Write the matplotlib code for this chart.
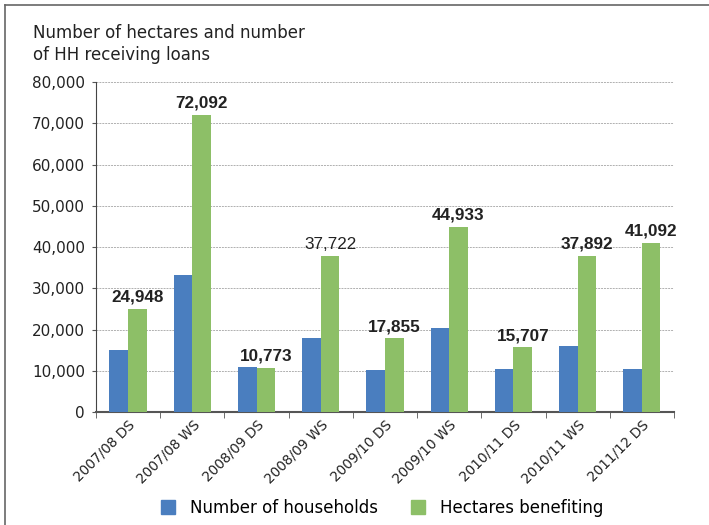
import matplotlib
matplotlib.use("Agg")
import matplotlib.pyplot as plt
import numpy as np
from matplotlib.lines import Line2D

categories = ["2007/08 DS", "2007/08 WS", "2008/09 DS", "2008/09 WS", "2009/10 DS",
              "2009/10 WS", "2010/11 DS", "2010/11 WS", "2011/12 DS"]
households = [15100, 33300, 10800, 17900, 10300, 20300, 10500, 16000, 10500]
hectares = [24948, 72092, 10773, 37722, 17855, 44933, 15707, 37892, 41092]
hectare_labels = ["24,948", "72,092", "10,773", "37,722", "17,855", "44,933", "15,707", "37,892", "41,092"]
label_bold = [True, True, True, False, True, True, True, True, True]
yticks = [0, 10000, 20000, 30000, 40000, 50000, 60000, 70000, 80000]
ytick_labels = ["0", "10,000", "20,000", "30,000", "40,000", "50,000", "60,000", "70,000", "80,000"]

blue = "#4a7ebf"
green = "#8dbf67"
txt = "#222222"

fig = plt.figure(figsize=(7.09, 5.25), dpi=100)
ax = fig.add_axes([0.1354, 0.2152, 0.8152, 0.6286])

x = np.arange(len(categories))
w = 0.29
ax.bar(x - w / 2, households, w, color=blue, label="Number of households", zorder=3)
ax.bar(x + w / 2, hectares, w, color=green, label="Hectares benefiting", zorder=3)

for xi, v, t, b in zip(x, hectares, hectare_labels, label_bold):
    ax.text(xi + w / 2, v + 1000, t, ha="center", va="bottom", fontsize=12.3,
            family="Liberation Sans", fontweight="bold" if b else "normal", color=txt)

ax.set_xlim(-0.5, len(categories) - 0.5)
ax.set_ylim(0, 80000)
ax.set_yticks(yticks)
ax.set_yticklabels(ytick_labels, fontsize=11, color=txt)
ax.yaxis.grid(True, linestyle=(0, (2, 1)), color="#b0b0b0", linewidth=0.7, zorder=0)
ax.set_axisbelow(True)

ax.set_xticks(x)
ax.set_xticklabels(categories, rotation=45, ha="right", rotation_mode="anchor", fontsize=9.8, color=txt)
ax.tick_params(axis="x", length=0, pad=4)
ax.set_xticks(np.arange(-0.5, len(categories)), minor=True)
ax.tick_params(axis="x", which="minor", length=4, color="#555555")
ax.tick_params(axis="y", length=3, color="#555555", pad=5)

for s in ["top", "right"]:
    ax.spines[s].set_visible(False)
ax.spines["left"].set_color("#444444")
ax.spines["bottom"].set_color("#555555")
ax.spines["bottom"].set_linewidth(1.5)

fig.text(33 / 709, 1 - 24 / 525, "Number of hectares and number\nof HH receiving loans",
         ha="left", va="top", fontsize=12, color=txt, linespacing=1.25)

handles = [Line2D([], [], marker="s", linestyle="none", markersize=10, color=blue),
           Line2D([], [], marker="s", linestyle="none", markersize=10, color=green)]
fig.legend(handles, ["Number of households", "Hectares benefiting"], loc="center",
           bbox_to_anchor=(0.532, 1 - 508 / 525), ncol=2, frameon=False, fontsize=12,
           handletextpad=0.3, columnspacing=1.4)

# frame lines (top and left)
fig.add_artist(Line2D([5 / 709, 1], [1 - 5 / 525, 1 - 5 / 525], color="#666666", linewidth=1.2,
                      transform=fig.transFigure))
fig.add_artist(Line2D([5 / 709, 5 / 709], [0, 1 - 5 / 525], color="#666666", linewidth=1.2,
                      transform=fig.transFigure))

fig.savefig("out.png", dpi=100)
